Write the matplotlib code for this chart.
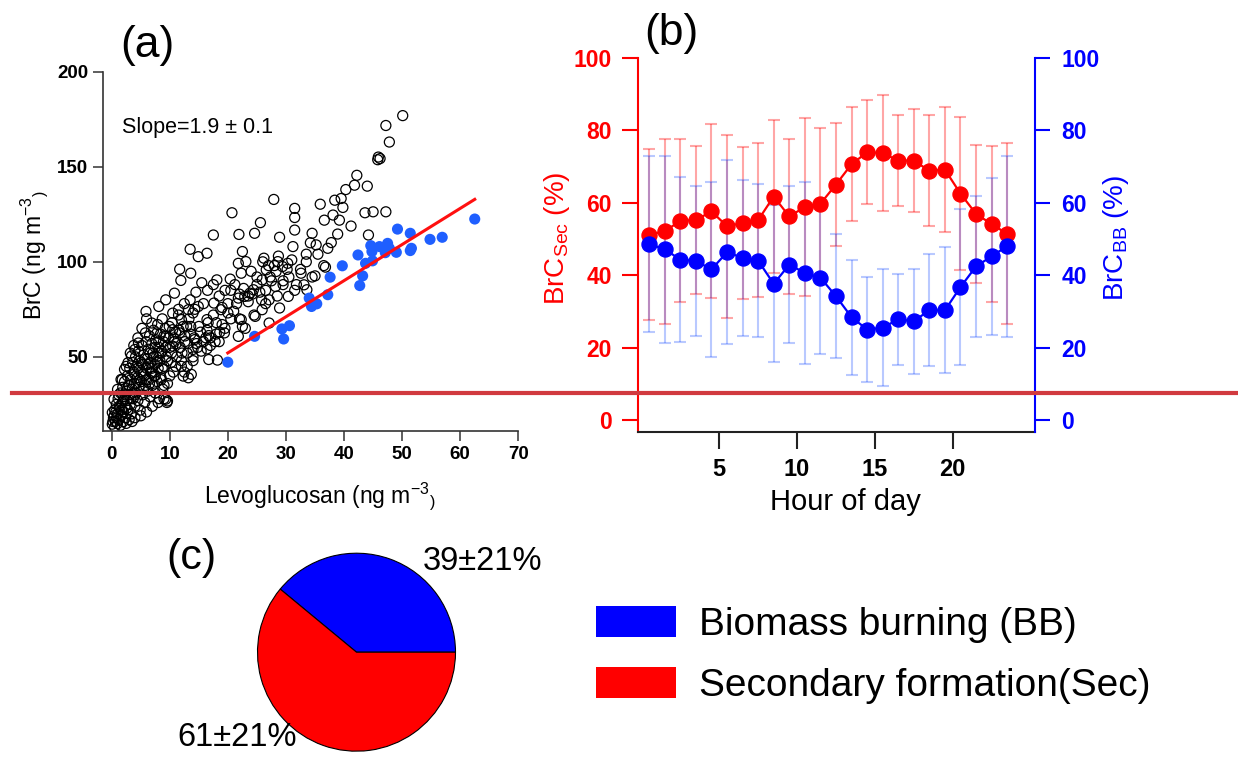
import numpy as np
import matplotlib
matplotlib.use("Agg")
import matplotlib.pyplot as plt
from matplotlib.lines import Line2D

plt.rcParams['font.family'] = ['Liberation Sans', 'DejaVu Sans']
plt.rcParams['mathtext.fontset'] = 'custom'
plt.rcParams['mathtext.rm'] = 'Liberation Sans'
plt.rcParams['mathtext.it'] = 'Liberation Sans:italic'
plt.rcParams['mathtext.bf'] = 'Liberation Sans:bold'
plt.rcParams['mathtext.default'] = 'regular'

# ---------------- data: panel (a) ----------------
levo_open = [50.1, 47.2, 47.8, 45.9, 46.2, 45.8, 42.2, 41.8, 44.0, 40.3, 27.9, 38.4, 39.5, 39.8,
             35.9, 38.1, 36.6, 39.2, 43.6, 45.0, 47.2, 31.5, 31.5, 31.5, 31.2, 20.7, 25.6, 24.6,
             17.5, 21.9, 28.9, 34.5, 35.2, 37.8, 38.9, 41.2, 44.2, 37.2, 36.8, 35.0, 33.1, 33.6,
             30.3, 29.4, 28.6, 28.3, 26.6, 26.2, 25.9, 28.2, 28.9, 27.1, 30.4, 22.5, 23.1, 21.8,
             22.3, 20.4, 18.1, 16.4, 14.9, 13.5, 13.6, 11.7, 11.9, 10.8, 9.3, 5.9, 8.1, 23.8,
             24.4, 22.9, 21.8, 24.7, 25.9, 27.1, 22.3, 20.0, 18.8, 17.6, 16.4, 19.4, 21.8, 16.7,
             16.4, 16.7, 18.2, 14.3, 14.0, 13.7, 13.2, 12.3, 9.3, 9.6, 6.9, 8.1, 10.5, 11.7,
             12.9, 14.0, 14.9, 13.2, 12.0, 10.5, 9.3, 7.8, 6.9, 5.8, 4.6, 4.0, 3.4, 2.8, 2.2,
             1.6, 1.0, 0.4, 0.1, 0.1,
             0.3, 0.5, 0.6, 0.8, 1.0, 1.1, 1.2, 1.4, 1.5, 1.6, 1.8, 1.9, 2.0, 2.1, 2.2, 2.3, 2.4,
             2.5, 2.6, 2.7, 2.8, 2.9, 3.0, 3.1, 3.2, 3.3, 3.4, 3.5, 3.6, 3.7, 3.8, 3.9, 4.0, 4.1,
             4.2, 4.3, 4.4, 4.5, 4.6, 4.7, 4.8, 4.9, 5.0, 5.1, 5.2, 5.3, 5.4, 5.5, 5.6, 5.7, 5.8,
             5.9, 6.0, 6.1, 6.2, 6.3, 6.4, 6.5, 6.6, 6.7, 6.8, 6.9, 7.0, 7.1, 7.2, 7.3, 7.4, 7.5,
             7.6, 7.7, 7.8, 7.9, 8.0, 8.1, 8.2, 8.3, 8.4, 8.5, 8.6, 8.7, 8.8, 8.9, 9.0, 9.2, 9.4,
             9.6, 9.8, 10.0, 10.2, 10.4, 10.6, 10.8, 11.0, 11.2, 11.5, 11.8, 12.0, 12.3, 12.6,
             13.0, 13.3, 13.6, 14.0, 14.3, 14.6, 15.0, 15.4, 15.8, 16.2, 16.6, 17.0, 17.5, 18.0,
             18.5, 19.0, 19.5, 20.5, 21.5, 22.5, 23.5, 24.5, 25.5, 26.5, 27.5, 28.5, 29.5, 30.5,
             31.5, 32.5, 33.5, 34.5, 35.5, 36.5,
             0.5, 1.0, 1.5, 2.0, 2.5, 3.0, 3.5, 4.0, 5.0, 6.0, 7.0, 8.0, 9.0, 9.5,
             0.2, 0.4, 0.7, 0.9, 1.3, 1.7, 2.0, 2.4, 2.6, 3.0, 3.3, 3.6, 3.9, 4.2, 4.5, 4.8,
             5.1, 5.4, 5.7, 6.0, 6.3, 6.6, 6.9, 7.2, 7.5, 7.8, 8.1, 8.4, 8.7, 9.0, 9.3, 9.6,
             9.9, 10.3, 10.7, 11.1, 11.6, 12.1, 12.6, 13.1, 13.6, 14.2, 14.8, 15.3, 15.8, 16.4,
             17.0, 17.8, 18.6, 1.2, 1.8, 2.5, 3.2, 3.8, 4.5, 5.2, 6.0, 4.0, 5.5, 6.5, 7.5, 8.5,
             9.0, 10.0, 11.0, 12.0, 13.0, 14.0, 12.5,
             20.5, 21.2, 22.0, 22.7, 23.5, 24.2, 25.0, 25.8, 26.5, 27.3, 28.0, 28.7, 29.5, 30.2,
             31.0, 31.8, 32.6, 33.5, 34.2, 24.0, 25.0, 26.0, 27.0, 19.5, 18.5, 17.5, 16.5, 15.5,
             14.5, 13.5, 12.5, 11.5, 10.5, 20.0, 21.0, 22.0, 23.0, 18.0, 19.0]
brc_open = [176.9, 171.7, 163.0, 155.1, 154.3, 153.7, 145.5, 140.3, 139.8, 138.0, 132.8, 132.4,
            133.3, 128.6, 130.3, 124.6, 121.9, 121.9, 125.8, 126.3, 126.3, 128.1, 123.3, 116.7,
            108.0, 125.8, 120.6, 115.0, 114.1, 114.4, 112.9, 115.0, 108.9, 110.1, 114.6, 118.8,
            114.1, 107.1, 97.2, 92.6, 87.9, 85.3, 99.2, 97.5, 100.1, 94.9, 95.8, 101.9, 90.5,
            87.0, 75.7, 80.0, 81.8, 105.4, 100.1, 99.2, 94.0, 90.9, 90.5, 104.5, 102.7, 106.6,
            94.0, 96.1, 90.2, 83.5, 80.0, 73.9, 76.5, 83.5, 85.3, 81.8, 80.9, 71.3, 74.8, 67.8,
            69.6, 73.1, 74.8, 78.3, 69.6, 62.6, 60.8, 61.2, 54.2, 48.6, 48.3, 59.1, 53.9, 40.8,
            39.0, 39.9, 27.7, 26.8, 41.6, 52.1, 55.6, 62.6, 66.1, 73.1, 76.5, 74.8, 69.6, 64.3,
            60.8, 62.6, 67.8, 62.6, 57.3, 53.9, 50.4, 46.9, 43.4, 38.1, 32.9, 27.7, 20.7, 14.6,
            18, 22, 16, 25, 20, 28, 17, 23, 31, 19, 26, 34, 21, 29, 37, 24, 18, 32, 27, 40, 22,
            35, 30, 44, 25, 38, 20, 33, 47, 28, 42, 36, 24, 50, 31, 45, 39, 27, 53, 34, 48, 22,
            42, 37, 56, 30, 46, 51, 40, 26, 35, 58, 44, 49, 32, 54, 38, 61, 29, 47, 42, 57, 35,
            52, 64, 40, 46, 31, 59, 50, 37, 67, 44, 55, 28, 48, 62, 39, 53, 70, 33, 58, 45, 65,
            50, 36, 60, 55, 47, 68, 42, 58, 63, 50, 72, 55, 45, 66, 58, 52, 70, 62, 48, 75, 57,
            66, 53, 78, 60, 68, 56, 72, 62, 58, 76, 65, 70, 78, 66, 82, 72, 84, 78, 90, 82, 88,
            92, 85, 96, 100, 92, 104, 98,
            13, 15, 14, 16, 15, 17, 16, 18, 19, 21, 24, 26, 28, 26,
            16, 19, 21, 18, 24, 22, 27, 30, 23, 35, 28, 31, 41, 36, 44, 38,
            47, 41, 49, 38, 46, 52, 44, 50, 55, 47, 58, 52, 44, 61, 55, 48,
            66, 52, 60, 57, 64, 52, 61, 57, 66, 60, 55, 63, 58, 64,
            60, 58, 63, 30, 38, 45, 52, 56, 60, 65, 70, 30, 33, 36, 40, 38,
            35, 40, 45, 48, 45, 50, 42,
            85, 88, 83, 86, 79, 83, 88, 80, 85, 92, 98, 103, 90, 96,
            101, 88, 94, 104, 110, 95, 92, 100, 98, 85, 82, 88, 85, 89,
            84, 80, 78, 75, 73, 78, 74, 70, 65, 68, 67]

levo_blue = [19.98, 24.6, 29.3, 29.6, 30.6, 34.0, 34.4, 35.3, 37.2, 37.6, 39.7, 42.4, 42.7, 43.2,
             43.7, 44.6, 44.8, 44.9, 46.1, 47.1, 47.5, 47.8, 49.0, 49.2, 51.4, 51.4, 51.6, 54.8,
             56.9, 62.5]
brc_blue = [47.2, 60.8, 64.7, 59.4, 66.4, 80.9, 76.5, 77.9, 82.7, 91.9, 97.9, 103.6, 87.5, 92.6,
            99.2, 108.5, 105.4, 100.5, 108.0, 104.8, 109.7, 107.1, 105.0, 117.2, 115.0, 105.9,
            107.1, 111.8, 112.9, 122.5]
fit_slope = 1.9
fit_intercept = 14.1

# ---------------- data: panel (b) ----------------
hours = [0.5, 1.5, 2.5, 3.5, 4.5, 5.5, 6.5, 7.5, 8.5, 9.5, 10.5, 11.5,
         12.5, 13.5, 14.5, 15.5, 16.5, 17.5, 18.5, 19.5, 20.5, 21.5, 22.5, 23.5]
brc_sec = [51.2, 52.1, 55.0, 55.2, 57.6, 53.5, 54.4, 55.2, 61.7, 56.2, 58.8, 59.7,
           65.0, 70.6, 73.9, 73.7, 71.6, 71.6, 68.8, 69.1, 62.5, 56.9, 54.1, 51.4]
brc_sec_sd = [23.7, 25.5, 22.5, 20.5, 24.0, 25.3, 21.0, 21.3, 21.0, 21.5, 24.6, 21.0,
              16.9, 15.7, 14.3, 15.9, 12.6, 14.3, 15.3, 17.2, 21.1, 19.0, 21.4, 25.0]
brc_bb = [48.6, 47.1, 44.3, 43.9, 41.6, 46.3, 44.8, 44.0, 37.6, 42.9, 40.6, 39.3,
          34.2, 28.4, 25.0, 25.5, 27.8, 27.3, 30.3, 30.3, 36.7, 42.4, 45.2, 48.0]
brc_bb_sd = [24.2, 25.8, 22.8, 20.8, 24.1, 25.4, 21.5, 21.2, 21.7, 21.6, 25.0, 21.1,
             17.2, 15.9, 14.5, 16.2, 12.6, 14.5, 15.4, 17.4, 21.6, 19.5, 21.6, 25.0]

# ---------------- data: panel (c) ----------------
pie_labels = ["Biomass burning (BB)", "Secondary formation(Sec)"]
pie_values = [39, 61]
pie_texts = ["39\u00b121%", "61\u00b121%"]
pie_colors = ["#0000ff", "#ff0000"]

W, H = 1238, 759
fig = plt.figure(figsize=(W / 100, H / 100), dpi=100)


def fx(px):
    return px / W


def fy(py):
    return 1 - py / H


def box(l, t, r, b):
    return [fx(l), fy(b), (r - l) / W, (b - t) / H]


# ================= panel (a) =================
ax1 = fig.add_axes(box(103.3, 71.7, 518.3, 431.0))
ax1.scatter(levo_open, brc_open, s=52, facecolors='none', edgecolors='black',
            linewidths=0.9, zorder=2)
ax1.scatter(levo_blue, brc_blue, s=64, color='#1f5fff', edgecolors='none', zorder=3)
fit_x = np.array([min(levo_blue), max(levo_blue)])
ax1.plot(fit_x, fit_slope * fit_x + fit_intercept, color='#ff1010', lw=2.2, zorder=4)
ax1.set_xlim(-1.45, 70)
ax1.set_ylim(11, 200)
ax1.set_xticks([0, 10, 20, 30, 40, 50, 60, 70])
ax1.set_yticks([50, 100, 150, 200])
for s in ['top', 'right']:
    ax1.spines[s].set_visible(False)
for s in ['left', 'bottom']:
    ax1.spines[s].set_color('#333333')
    ax1.spines[s].set_linewidth(1.2)
ax1.tick_params(axis='both', direction='out', length=7, width=1.1, color='#333333',
                labelsize=13.5, pad=4)
for lab in ax1.get_xticklabels() + ax1.get_yticklabels():
    lab.set_fontweight('bold')
ax1.text(0.045, 0.845, "Slope=1.9 \u00b1 0.1", transform=ax1.transAxes, fontsize=15.5,
         ha='left', va='center')
fig.text(fx(320), fy(496), r"Levoglucosan (ng m$^{-3}$$_{)}$", fontsize=16.5,
         ha='center', va='center')
fig.text(fx(34), fy(255), r"BrC (ng m$^{-3}$$_{)}$", fontsize=16.5, rotation=90,
         ha='center', va='center')
fig.text(fx(147), fy(46), "(a)", fontsize=32, ha='center', va='center')

# ================= panel (b) =================
ax2 = fig.add_axes(box(637.7, 57.7, 1035.0, 431.7))
ax2.errorbar(hours, brc_sec, yerr=brc_sec_sd, fmt='none', ecolor=(1, 0, 0, 0.35),
             elinewidth=1.5, capsize=4.5, capthick=1.5, zorder=1)
ax2.errorbar(hours, brc_bb, yerr=brc_bb_sd, fmt='none', ecolor=(0.1, 0.3, 1, 0.3),
             elinewidth=1.5, capsize=4.5, capthick=1.5, zorder=1)
ax2.plot(hours, brc_sec, 'o-', color='#ff0000', ms=10.8, lw=1.6, zorder=3)
ax2.plot(hours, brc_bb, 'o-', color='#0000ff', ms=10.8, lw=1.6, zorder=3)
ax2.set_xlim(-0.24, 25.29)
ax2.set_ylim(-3.2, 100)
ax2.set_xticks([5, 10, 15, 20])
ax2.set_yticks([0, 20, 40, 60, 80, 100])
ax3 = ax2.twinx()
ax3.set_ylim(-3.2, 100)
ax3.set_yticks([0, 20, 40, 60, 80, 100])
for a in (ax2, ax3):
    a.spines['top'].set_visible(False)
ax2.spines['right'].set_visible(False)
ax3.spines['left'].set_visible(False)
ax3.spines['bottom'].set_visible(False)
ax2.spines['left'].set_color('#ff0000')
ax2.spines['left'].set_linewidth(1.5)
ax2.spines['bottom'].set_color('#222222')
ax2.spines['bottom'].set_linewidth(1.5)
ax3.spines['right'].set_color('#0000ff')
ax3.spines['right'].set_linewidth(1.5)
ax2.tick_params(axis='x', direction='out', length=12, width=1.5, color='#222222',
                labelsize=17, pad=7)
ax2.tick_params(axis='y', direction='out', length=11.5, width=1.5, color='#ff0000',
                labelcolor='#ff0000', labelsize=16.5, pad=7)
ax3.tick_params(axis='y', direction='out', length=11, width=1.5, color='#0000ff',
                labelcolor='#0000ff', labelsize=16.5, pad=8)
for lab in ax2.get_xticklabels() + ax2.get_yticklabels() + ax3.get_yticklabels():
    lab.set_fontweight('bold')
fig.text(fx(845), fy(502), "Hour of day", fontsize=21, ha='center', va='center')
fig.text(fx(557), fy(238), r"BrC$_{Sec}$ (%)", fontsize=20, color='#ff0000',
         rotation=90, ha='center', va='center')
fig.text(fx(1116), fy(238), r"BrC$_{BB}$ (%)", fontsize=20, color='#0000ff',
         rotation=90, ha='center', va='center')
fig.text(fx(671), fy(34), "(b)", fontsize=32, ha='center', va='center')

# ================= panel (c) =================
axp = fig.add_axes(box(257.5, 553.2, 455.5, 751.2))
wedges, _ = axp.pie(pie_values, colors=pie_colors, startangle=0, counterclock=True,
                    radius=1.0, wedgeprops=dict(edgecolor='black', linewidth=0.8))
axp.set_xlim(-1, 1)
axp.set_ylim(-1, 1)
axp.set_aspect('equal')
axp.axis('off')
fig.text(fx(483), fy(561), pie_texts[0], fontsize=23.5, ha='center', va='center')
fig.text(fx(237), fy(737), pie_texts[1], fontsize=23.5, ha='center', va='center')
fig.text(fx(191), fy(558), "(c)", fontsize=31, ha='center', va='center')

leg = fig.legend(wedges, pie_labels, loc='upper left',
                 bbox_to_anchor=(fx(596), fy(606)), frameon=False, fontsize=28,
                 handlelength=2.05, handleheight=0.85, handletextpad=0.6,
                 labelspacing=0.62, borderaxespad=0, borderpad=0)
for hnd in leg.legend_handles:
    hnd.set_edgecolor('none')

# horizontal red line across the figure
fig.add_artist(Line2D([fx(12), 1.0], [fy(392.7), fy(392.7)], color='#d13a3f', lw=3.0))

fig.savefig("out.png", dpi=100)
